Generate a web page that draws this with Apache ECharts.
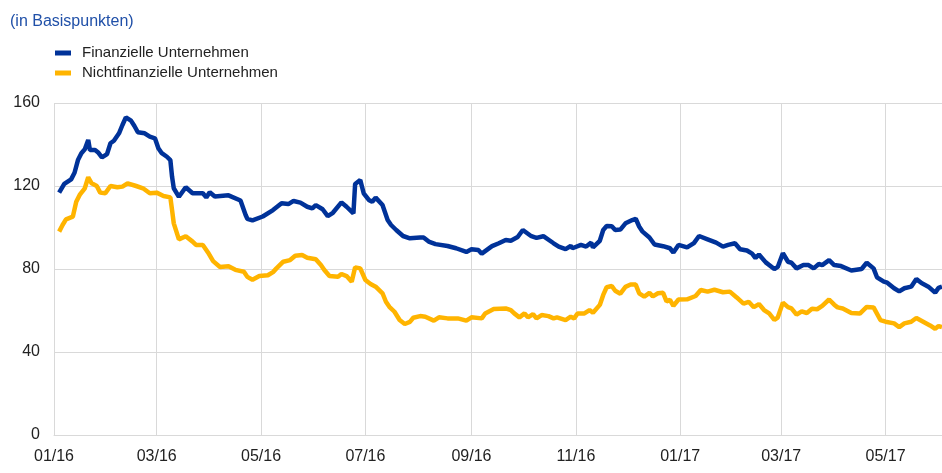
<!DOCTYPE html>
<html>
<head>
<meta charset="utf-8">
<script src="https://cdn.jsdelivr.net/npm/echarts@6/dist/echarts.min.js"></script>
<style>
  html, body { margin: 0; padding: 0; background: #fff; }
  #chart { width: 942px; height: 473px; }
</style>
</head>
<body>
<div id="chart"></div>
<script>
// Finanzielle Unternehmen
var finDates = [
  '2016-01-04','2016-01-07','2016-01-11','2016-01-13','2016-01-15','2016-01-17','2016-01-19','2016-01-21','2016-01-22','2016-01-25',
  '2016-01-27','2016-01-29','2016-02-01','2016-02-03','2016-02-05','2016-02-08','2016-02-10','2016-02-12','2016-02-15','2016-02-17',
  '2016-02-19','2016-02-23','2016-02-26','2016-02-29','2016-03-02','2016-03-04','2016-03-07','2016-03-09','2016-03-10','2016-03-11',
  '2016-03-14','2016-03-18','2016-03-22','2016-03-28','2016-03-30','2016-04-01','2016-04-04','2016-04-12','2016-04-19','2016-04-22',
  '2016-04-23','2016-04-26','2016-05-02','2016-05-08','2016-05-13','2016-05-17','2016-05-20','2016-05-24','2016-05-28','2016-05-31',
  '2016-06-02','2016-06-06','2016-06-09','2016-06-12','2016-06-17','2016-06-20','2016-06-24','2016-06-25','2016-06-28','2016-06-30',
  '2016-07-03','2016-07-05','2016-07-07','2016-07-11','2016-07-14','2016-07-16','2016-07-19','2016-07-23','2016-07-27','2016-08-02',
  '2016-08-04','2016-08-07','2016-08-11','2016-08-18','2016-08-23','2016-08-29','2016-09-01','2016-09-05','2016-09-07','2016-09-13',
  '2016-09-17','2016-09-21','2016-09-24','2016-09-28','2016-10-01','2016-10-06','2016-10-09','2016-10-13','2016-10-19','2016-10-22',
  '2016-10-26','2016-10-29','2016-10-30','2016-11-04','2016-11-07','2016-11-10','2016-11-11','2016-11-15','2016-11-17','2016-11-19',
  '2016-11-22','2016-11-24','2016-11-27','2016-11-30','2016-12-04','2016-12-06','2016-12-08','2016-12-10','2016-12-14','2016-12-17',
  '2016-12-22','2016-12-26','2016-12-28','2016-12-31','2017-01-05','2017-01-09','2017-01-12','2017-01-17','2017-01-22','2017-01-26',
  '2017-01-29','2017-02-02','2017-02-05','2017-02-09','2017-02-12','2017-02-14','2017-02-16','2017-02-20','2017-02-25','2017-02-27',
  '2017-03-02','2017-03-05','2017-03-07','2017-03-10','2017-03-14','2017-03-17','2017-03-20','2017-03-23','2017-03-25','2017-03-29',
  '2017-04-01','2017-04-05','2017-04-11','2017-04-17','2017-04-20','2017-04-24','2017-04-26','2017-04-30','2017-05-02','2017-05-06',
  '2017-05-09','2017-05-12','2017-05-16','2017-05-19','2017-05-22','2017-05-26','2017-05-30','2017-06-01','2017-06-03'
];
var finValues = [
  116.8,121,123.2,126.4,132.5,135.8,137.7,142.2,137.3,137.3,
  136,133.8,135.4,140.6,141.8,145.4,149.4,153.1,151.5,148.9,
  145.9,145.4,143.8,143,138.2,135.8,134.1,132.5,124.5,118.9,
  114.8,119.4,116.5,116.5,114.5,117,114.9,115.5,113,106,
  104.2,103.4,105.3,108.4,111.7,111.3,112.8,112,110,109.2,
  110.8,108.8,105.5,107.1,112.1,110,106.8,121,122.9,116.5,
  113.3,112.4,114.4,110.8,103.6,101.2,98.8,95.9,94.8,95.2,
  95.2,93.2,92,91.1,90,88.2,89.5,89.2,87.4,91,
  92.4,94,93.6,95.4,98.8,95.8,95,95.8,92.4,90.8,
  89.6,91.1,90,91.6,90.8,92.7,90.4,93.6,98.8,100.7,
  100.6,98.8,99,102,103.6,104.2,100.5,98,95.2,91.8,
  91,90,87.9,91.6,90.4,92.5,95.9,94.3,92.7,90.8,
  91.6,92.4,89.5,88.9,87.4,85.3,87,83.2,80,81,
  87.6,83.5,83,80.3,81.9,81.9,80.3,82.4,81.9,84.3,
  81.9,81.4,79.3,80,83,80.3,76,73.9,73.4,70.7,
  69.2,70.7,71.5,75.2,73.2,71.5,68.6,70.9,71.5
];

// Nichtfinanzielle Unternehmen
var nfinDates = [
  '2016-01-04','2016-01-06','2016-01-08','2016-01-12','2016-01-14','2016-01-16','2016-01-19','2016-01-21','2016-01-23','2016-01-26',
  '2016-01-28','2016-01-31','2016-02-03','2016-02-07','2016-02-10','2016-02-13','2016-02-18','2016-02-22','2016-02-26','2016-03-01',
  '2016-03-05','2016-03-09','2016-03-10','2016-03-11','2016-03-14','2016-03-18','2016-03-22','2016-03-24','2016-03-28','2016-03-31',
  '2016-04-03','2016-04-07','2016-04-12','2016-04-16','2016-04-21','2016-04-23','2016-04-26','2016-04-30','2016-05-05','2016-05-08',
  '2016-05-10','2016-05-14','2016-05-18','2016-05-21','2016-05-25','2016-05-28','2016-06-02','2016-06-05','2016-06-07','2016-06-10',
  '2016-06-15','2016-06-17','2016-06-20','2016-06-23','2016-06-25','2016-06-28','2016-07-01','2016-07-04','2016-07-07','2016-07-11',
  '2016-07-13','2016-07-15','2016-07-18','2016-07-21','2016-07-24','2016-07-27','2016-07-29','2016-08-02','2016-08-05','2016-08-10',
  '2016-08-13','2016-08-18','2016-08-24','2016-08-29','2016-09-01','2016-09-07','2016-09-09','2016-09-14','2016-09-21','2016-09-24',
  '2016-09-26','2016-09-29','2016-10-02','2016-10-04','2016-10-07','2016-10-09','2016-10-12','2016-10-16','2016-10-19','2016-10-21',
  '2016-10-26','2016-10-29','2016-10-31','2016-11-02','2016-11-06','2016-11-09','2016-11-11','2016-11-15','2016-11-17','2016-11-19',
  '2016-11-22','2016-11-24','2016-11-27','2016-11-30','2016-12-03','2016-12-06','2016-12-08','2016-12-11','2016-12-14','2016-12-16',
  '2016-12-19','2016-12-22','2016-12-24','2016-12-26','2016-12-28','2016-12-31','2017-01-05','2017-01-10','2017-01-13','2017-01-17',
  '2017-01-21','2017-01-26','2017-01-30','2017-02-03','2017-02-07','2017-02-10','2017-02-13','2017-02-16','2017-02-19','2017-02-22',
  '2017-02-25','2017-02-27','2017-03-02','2017-03-05','2017-03-07','2017-03-10','2017-03-13','2017-03-16','2017-03-19','2017-03-22',
  '2017-03-25','2017-03-29','2017-04-01','2017-04-03','2017-04-06','2017-04-11','2017-04-16','2017-04-20','2017-04-24','2017-04-28',
  '2017-05-01','2017-05-06','2017-05-09','2017-05-12','2017-05-16','2017-05-19','2017-05-23','2017-05-27','2017-05-30','2017-06-01',
  '2017-06-03'
];
var nfinValues = [
  98,101.2,103.9,105.2,112.4,115.7,118.9,124.2,121.3,120,
  116.8,116.5,120,119.4,119.7,121.3,120,118.9,116.5,116.8,
  115.2,114.5,108.4,102,94.3,95.8,93.2,91.6,91.6,88,
  83.8,81,81.3,79.6,78.7,76.2,74.8,76.6,77,78.5,
  80.3,83.5,84.3,86.4,86.7,85.4,84.7,81.9,79.5,76.6,
  76.3,77.6,76.6,73.9,80.8,80.3,74.7,72.8,71.5,68.3,
  64.2,61.8,59.4,55.4,53.5,54.5,56.5,57.3,57,55.1,
  56.7,56.2,56.2,55.1,56.7,56.2,58.6,60.7,61,60.2,
  58.6,56.7,58.6,56.7,58.3,56.2,57.8,57.3,56.2,56.7,
  55.4,57,56.2,58.6,58.6,60.2,58.9,62.7,67.5,71.2,
  71.8,69.5,68.1,71.4,72.5,72.5,68.3,66.7,68.5,66.8,
  68.3,68.5,64.4,65.1,62.2,65.3,65.4,67,69.9,69.1,
  70,68.8,69.1,66.3,63.3,64.2,61.6,63.1,60.2,58.6,
  55.5,56.6,63.8,61.6,61,58,59.6,58.8,60.8,60.6,
  62.2,65.3,62.8,61.5,61,58.8,58.5,61.7,61.5,55.4,
  54.6,53.8,52,53.8,54.6,56.4,54.6,52.8,51.2,52.5,
  52
];

var yTicks = { min: 0, max: 160, interval: 40 };

// Kalendertage als Kategorien
var days = [];
var d = Date.UTC(2016, 0, 1), end = Date.UTC(2017, 5, 3);
for (; d <= end; d += 86400000) {
  days.push(new Date(d).toISOString().slice(0, 10));
}

function isTick(idx, value) {
  return value.slice(8) === '01' && parseInt(value.slice(5, 7), 10) % 2 === 1;
}

var chart = echarts.init(document.getElementById('chart'), null, { renderer: 'canvas' });
var font = 'Liberation Sans, Arial, sans-serif';

chart.setOption({
  animation: false,
  title: {
    text: '(in Basispunkten)',
    left: 5,
    top: 9,
    textStyle: { color: '#2050a8', fontSize: 16, fontWeight: 'normal', fontFamily: font }
  },
  legend: {
    orient: 'vertical',
    left: 50,
    top: 38,
    itemWidth: 16,
    itemHeight: 5,
    itemGap: 0,
    icon: 'rect',
    textStyle: { color: '#222', fontSize: 15, fontFamily: font, lineHeight: 20, padding: [0, 0, 0, 6] },
    data: ['Finanzielle Unternehmen', 'Nichtfinanzielle Unternehmen']
  },
  grid: { left: 54, right: 0, top: 103, bottom: 38, containLabel: false },
  xAxis: {
    type: 'category',
    data: days,
    boundaryGap: false,
    axisLine: { show: true, lineStyle: { color: '#d9d9d9', width: 1 } },
    axisTick: { show: false },
    axisLabel: {
      interval: isTick,
      margin: 14,
      color: '#222',
      fontSize: 16,
      fontFamily: font,
      formatter: function (v) { return v.slice(5, 7) + '/' + v.slice(2, 4); }
    },
    splitLine: { show: true, interval: isTick, lineStyle: { color: '#d9d9d9', width: 1 } }
  },
  yAxis: {
    type: 'value',
    min: yTicks.min,
    max: yTicks.max,
    interval: yTicks.interval,
    axisLine: { show: false },
    axisTick: { show: false },
    axisLabel: { color: '#222', fontSize: 16, fontFamily: font, margin: 14 },
    splitLine: { lineStyle: { color: '#d9d9d9', width: 1 } }
  },
  series: [
    {
      name: 'Nichtfinanzielle Unternehmen',
      type: 'line',
      data: nfinDates.map(function (t, i) { return [t, nfinValues[i]]; }),
      showSymbol: false,
      color: '#ffb400',
      lineStyle: { width: 4.5, color: '#ffb400' },
      z: 2
    },
    {
      name: 'Finanzielle Unternehmen',
      type: 'line',
      data: finDates.map(function (t, i) { return [t, finValues[i]]; }),
      showSymbol: false,
      color: '#003299',
      lineStyle: { width: 4.5, color: '#003299' },
      z: 3
    }
  ]
});
</script>
</body>
</html>
